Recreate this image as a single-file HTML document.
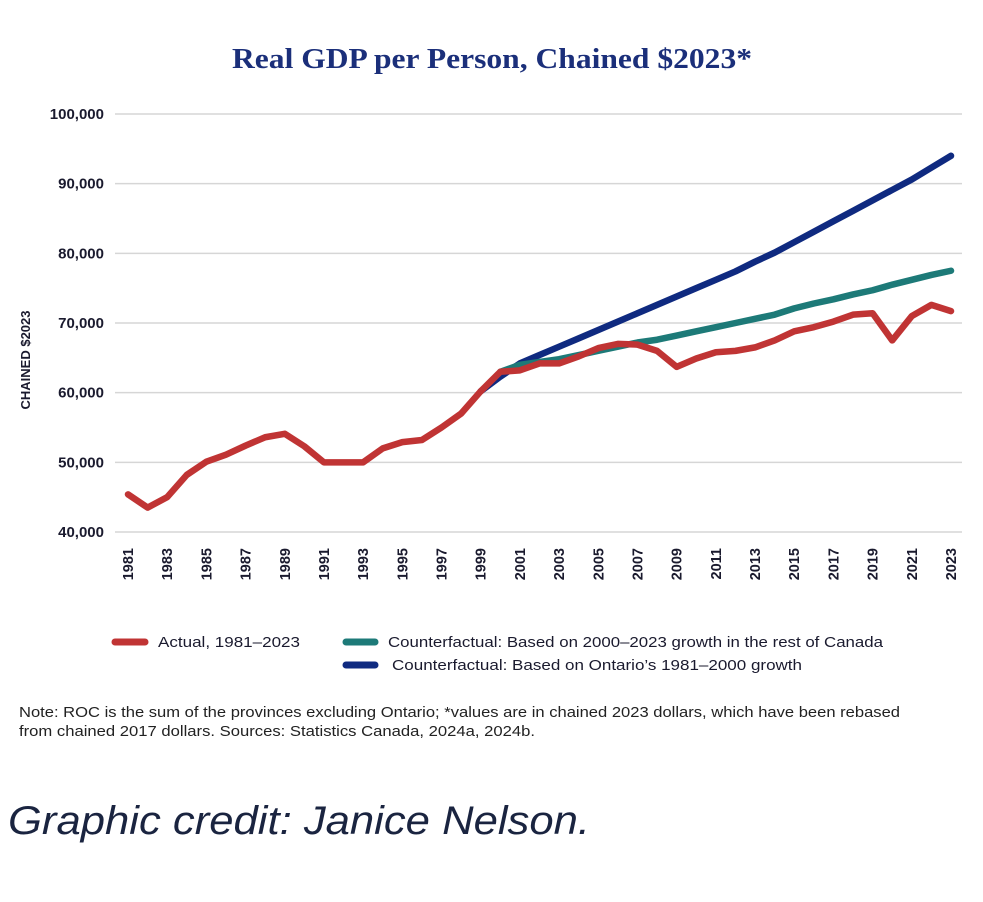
<!DOCTYPE html>
<html><head><meta charset="utf-8"><style>
body{margin:0;background:#fff;width:983px;height:897px;overflow:hidden}
svg text{font-family:"Liberation Sans",sans-serif}
</style></head><body>
<svg id="chart" width="983" height="897" viewBox="0 0 983 897" xmlns="http://www.w3.org/2000/svg">
<text x="232" y="68" textLength="520" lengthAdjust="spacingAndGlyphs" style="font-family:'Liberation Serif',serif;font-weight:bold;font-size:29px" fill="#1b2f7a">Real GDP per Person, Chained $2023*</text>
<text transform="translate(30,360) rotate(-90)" text-anchor="middle" font-size="13" font-weight="bold" fill="#1a1a2e">CHAINED $2023</text>
<g id="grid"></g><g id="ylabels"></g><g id="xlabels"></g><g id="lines"></g>
<g>
<line x1="115" y1="642" x2="145" y2="642" stroke="#c03434" stroke-width="7" stroke-linecap="round"/>
<text x="158" y="647" font-size="15" textLength="142" lengthAdjust="spacingAndGlyphs" fill="#1a1a2e">Actual, 1981–2023</text>
<line x1="346" y1="642" x2="375" y2="642" stroke="#1d7a78" stroke-width="7" stroke-linecap="round"/>
<text x="388" y="647" font-size="15" textLength="495" lengthAdjust="spacingAndGlyphs" fill="#1a1a2e">Counterfactual: Based on 2000–2023 growth in the rest of Canada</text>
<line x1="346" y1="665" x2="375" y2="665" stroke="#0f2a80" stroke-width="7" stroke-linecap="round"/>
<text x="392" y="670" font-size="15" textLength="410" lengthAdjust="spacingAndGlyphs" fill="#1a1a2e">Counterfactual: Based on Ontario’s 1981–2000 growth</text>
</g>
<text x="19" y="717" font-size="14.5" textLength="881" lengthAdjust="spacingAndGlyphs" fill="#222">Note: ROC is the sum of the provinces excluding Ontario; *values are in chained 2023 dollars, which have been rebased</text>
<text x="19" y="736" font-size="14.5" textLength="516" lengthAdjust="spacingAndGlyphs" fill="#222">from chained 2017 dollars. Sources: Statistics Canada, 2024a, 2024b.</text>
<text x="8" y="834" font-size="40" font-style="italic" textLength="582" lengthAdjust="spacingAndGlyphs" fill="#1a2440">Graphic credit: Janice Nelson.</text>
</svg>
<script>
const years=[];for(let y=1981;y<=2023;y++)years.push(y);
const yTicks=[40000,50000,60000,70000,80000,90000,100000];
const actual=[45.4,43.5,45.0,48.2,50.1,51.1,52.4,53.6,54.1,52.3,50.0,50.0,50.0,52.0,52.9,53.2,55.0,57.0,60.2,63.0,63.2,64.2,64.2,65.2,66.4,67.0,66.9,66.0,63.7,64.9,65.8,66.0,66.5,67.5,68.8,69.4,70.2,71.2,71.4,67.5,71.0,72.6,71.7];
const rocYears=[2000,2001,2002,2003,2004,2005,2006,2007,2008,2009,2010,2011,2012,2013,2014,2015,2016,2017,2018,2019,2020,2021,2022,2023];
const rocValues=[63.0,64.0,64.4,64.8,65.4,66.0,66.6,67.2,67.6,68.2,68.8,69.4,70.0,70.6,71.2,72.1,72.8,73.4,74.1,74.7,75.5,76.2,76.9,77.5];
const ontYears=[1999,2000,2001,2002,2003,2004,2005,2006,2007,2008,2009,2010,2011,2012,2013,2014,2015,2016,2017,2018,2019,2020,2021,2022,2023];
const ontValues=[60.2,62.3,64.2,65.4,66.6,67.8,69.0,70.2,71.4,72.6,73.8,75.0,76.2,77.4,78.8,80.1,81.6,83.1,84.6,86.1,87.6,89.1,90.6,92.3,94.0];
const NS="http://www.w3.org/2000/svg";
const x=yr=>128+(yr-1981)*(951-128)/42;
const y=v=>532-(v-40000)*(418/60000);
const mk=(t,a)=>{const e=document.createElementNS(NS,t);for(const k in a)e.setAttribute(k,a[k]);return e;};
const grid=document.getElementById('grid'),yl=document.getElementById('ylabels'),xl=document.getElementById('xlabels'),lines=document.getElementById('lines');
yTicks.forEach(v=>{
 const l=mk('line',{x1:115,x2:962,y1:y(v),y2:y(v),stroke:'#d6d6d6','stroke-width':1.5});
 
 
 grid.appendChild(l);
 const t=mk('text',{x:104,y:y(v)+5,'text-anchor':'end','font-size':15,'font-weight':'bold',fill:'#1a1a2e'});
 
 
 t.textContent=v.toLocaleString('en-US');yl.appendChild(t);
});
years.filter(yr=>(yr-1981)%2===0).forEach(yr=>{
 const t=mk('text',{transform:`translate(${x(yr)+5},548) rotate(-90)`,'text-anchor':'end','font-size':14.5,'font-weight':'bold',fill:'#1a1a2e'});
 
 
 t.textContent=yr;xl.appendChild(t);
});
function line(xs,vs,color,name){
 const p=mk('polyline',{points:xs.map((yr,i)=>x(yr)+','+y(vs[i]*1000)).join(' '),fill:'none',stroke:color,'stroke-width':6.5,'stroke-linecap':'round','stroke-linejoin':'round'});
 
 
 lines.appendChild(p);
}
line(ontYears,ontValues,'#0f2a80','ontario-counterfactual-line');
line(rocYears,rocValues,'#1d7a78','roc-counterfactual-line');
line(years,actual,'#c03434','actual-line');
</script>
</body></html>
